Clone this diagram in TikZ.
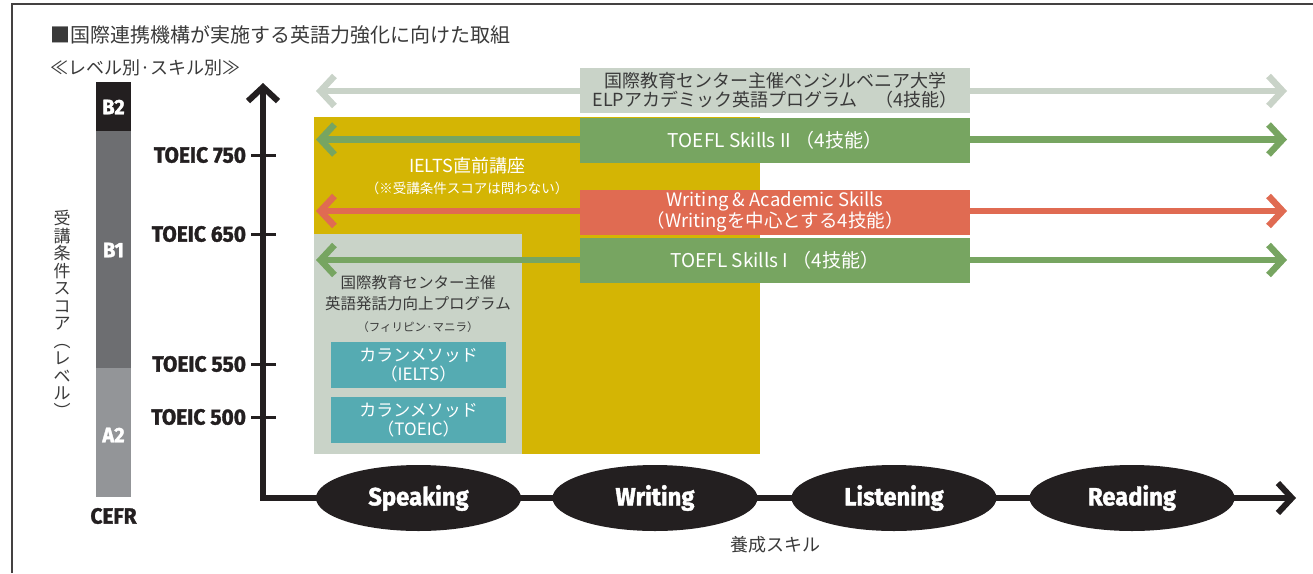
\documentclass[tikz,border=0pt]{standalone}
\usepackage{fontspec}
\usepackage{graphicx}
\setmainfont{Noto Sans CJK JP}
\newfontfamily\heavyfont{Fira Sans}[BoldFeatures={FakeBold=1.6}]
\usetikzlibrary{arrows.meta,shapes.geometric}
\definecolor{blk}{HTML}{231F20}
\definecolor{bone}{HTML}{6D6E71}
\definecolor{atwo}{HTML}{939598}
\definecolor{pale}{HTML}{C9D3C8}
\definecolor{grn}{HTML}{77A561}
\definecolor{redd}{HTML}{E06B52}
\definecolor{yel}{HTML}{D4B504}
\definecolor{cyn}{HTML}{55ABB2}
\definecolor{txt}{HTML}{3A3A3A}
\newcommand\hv[2]{\scalebox{0.95}[1]{\fontsize{#1}{#1}\selectfont\heavyfont\bfseries #2}}
\tikzset{
  chev/.tip={Straight Barb[length=14pt,width=30pt,line join=miter]},
  every node/.style={inner sep=0pt,outer sep=0pt},
  progbox/.style={minimum width=390pt,minimum height=45pt,align=center,font=\fontsize{18}{18}\selectfont},
  bararrow/.style={line width=6.5pt,{chev}-{chev}},
  cynbox/.style={fill=cyn,minimum width=175pt,minimum height=46pt,align=center,text=white,font=\fontsize{17}{19}\selectfont},
  skill/.style={ellipse,fill=blk,minimum width=205pt,minimum height=66pt,text=white},
  tick/.style={line width=3pt,blk},
  toeic/.style={anchor=east,text=blk},
}
\begin{document}
\begin{tikzpicture}[x=1pt,y=-1pt]
\useasboundingbox (0,0) rectangle (1313,573);
% frame
\draw[line width=1.5pt,color=blk!85] (12,573) -- (12,4) -- (1313,4);
% titles
\node[anchor=west,text=txt,font=\fontsize{20}{20}\selectfont] (title) at (50,35) {■国際連携機構が実施する英語力強化に向けた取組};
\node[anchor=west,text=txt,font=\fontsize{18}{18}\selectfont] (subtitle) at (50,68) {≪レベル別·スキル別≫};
% CEFR bar
\fill[blk] (96,82) rectangle (131,131);
\fill[bone] (96,131) rectangle (131,368);
\fill[atwo] (96,368) rectangle (131,497);
\node[text=white] (b2) at (113.5,107) {\hv{21}{B2}};
\node[text=white] (b1) at (113.5,250) {\hv{21}{B1}};
\node[text=white] (a2) at (113.5,435) {\hv{21}{A2}};
\node[text=blk] (cefr) at (113.5,516) {\hv{22}{CEFR}};
% vertical label
\node[text=txt,align=center,font=\fontsize{17}{17.5}\selectfont] (vlabel) at (62,314) {受\\講\\条\\件\\ス\\コ\\ア\\︵\\レ\\ベ\\ル\\︶};
% coloured areas
\fill[yel] (314,117) rectangle (760,454);
\fill[pale] (314,234) rectangle (522,454);
\node[text=white,align=center,font=\fontsize{18}{18}\selectfont] (ielts) at (467,176) {IELTS直前講座\\[3pt]\fontsize{13.5}{14}\selectfont （※受講条件スコアは問わない）};
\node[text=txt,align=center,font=\fontsize{15.5}{21}\selectfont] (manila) at (418,304) {国際教育センター主催\\英語発話力向上プログラム\\[1pt]\fontsize{11.5}{12}\selectfont （フィリピン·マニラ）};
\node[cynbox] (callan1) at (418.5,365) {カランメソッド\\（IELTS）};
\node[cynbox] (callan2) at (418.5,420) {カランメソッド\\（TOEIC）};
% arrows
\coordinate (l1) at (316,91); \coordinate (r1) at (1287,91);
\coordinate (l2) at (316,139.5); \coordinate (r2) at (1287,139.5);
\coordinate (l3) at (316,211); \coordinate (r3) at (1287,211);
\coordinate (l4) at (316,260); \coordinate (r4) at (1287,260);
\draw[bararrow,pale] (l1) -- (r1);
\draw[bararrow,grn] (l2) -- (r2);
\draw[bararrow,redd] (l3) -- (r3);
\draw[bararrow,grn] (l4) -- (r4);
\node[progbox,fill=pale,text=txt,font=\fontsize{18}{18.5}\selectfont] (penn) at (775,90.5) {国際教育センター主催ペンシルベニア大学\\ELPアカデミック英語プログラム　（4技能）};
\node[progbox,fill=grn,text=white,font=\fontsize{19}{19}\selectfont] (toefl2) at (775,140) {TOEFL Skills II （4技能）};
\node[progbox,fill=redd,text=white,font=\fontsize{18.5}{19.5}\selectfont] (was) at (775,212) {Writing \& Academic Skills\\（Writingを中心とする4技能）};
\node[progbox,fill=grn,text=white,font=\fontsize{19}{19}\selectfont] (toefl1) at (775,260) {TOEFL Skills I （4技能）};
% axes
\coordinate (ytop) at (263,83);
\coordinate (origin) at (263,498);
\coordinate (xend) at (1296,498);
\draw[line width=6pt,blk,line join=miter,{chev}-{chev}] (ytop) -- (origin) -- (xend);
% ticks
\foreach \yy/\nm/\val in {155/t750/750,234/t650/650,364/t550/550,417/t500/500}{
  \draw[tick] (251,\yy) -- (276,\yy);
  \node[toeic] (\nm) at (246,\yy) {\hv{22}{TOEIC \val}};
}
% skills
\node[skill] (speaking) at (418.5,498) {\hv{25}{Speaking}};
\node[skill] (writing) at (655,498) {\hv{25}{Writing}};
\node[skill] (listening) at (894,498) {\hv{25}{Listening}};
\node[skill] (reading) at (1132,498) {\hv{25}{Reading}};
\node[text=txt,font=\fontsize{18}{18}\selectfont] (yousei) at (775,545) {養成スキル};
\end{tikzpicture}
\end{document}
